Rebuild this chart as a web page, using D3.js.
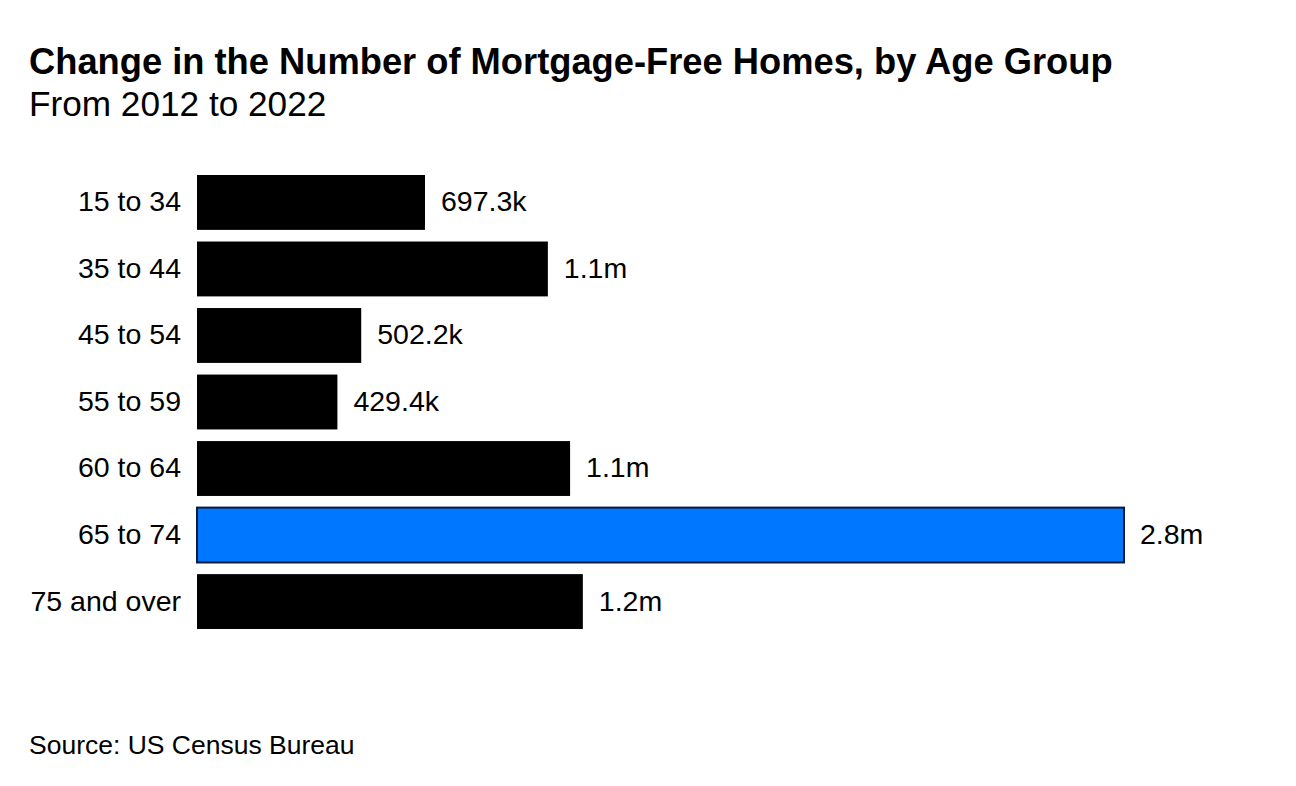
<!DOCTYPE html>
<html lang="en">
<head>
<meta charset="utf-8">
<title>Mortgage-Free Homes</title>
<script src="https://d3js.org/d3.v7.min.js"></script>
<style>
	body { margin: 0; background: #fff; }
	text { font-family: "Liberation Sans", Arial, sans-serif; fill: #000; }
</style>
</head>
<body>
<svg></svg>
<script>
	// change 2012-2022, thousands of homes
	const groups = ['15 to 34', '35 to 44', '45 to 54', '55 to 59', '60 to 64', '65 to 74', '75 and over'];
	const values = [697.3, 1073, 502.2, 429.4, 1141, 2835, 1180];
	const labels = ['697.3k', '1.1m', '502.2k', '429.4k', '1.1m', '2.8m', '1.2m'];
	const highlight = '65 to 74';

	const w = 1296;
	const h = 786;

	const svg = d3.select('svg')
		.attr('width', w)
		.attr('height', h);

	svg.append('text')
		.attr('x', 29)
		.attr('y', 74)
		.style('font-size', '36.3px')
		.style('font-weight', 700)
		.text('Change in the Number of Mortgage-Free Homes, by Age Group');

	svg.append('text')
		.attr('x', 29)
		.attr('y', 116)
		.style('font-size', '35.2px')
		.text('From 2012 to 2022');

	const x = d3.scaleLinear()
		.domain([0, 2835])
		.range([197, 1124]);

	const y = d3.scaleBand()
		.domain(groups)
		.range([175, 629])
		.paddingInner(0.175)
		.paddingOuter(0);

	svg.selectAll('rect.bar')
		.data(groups)
		.join('rect')
		.attr('class', 'bar')
		.attr('x', x(0))
		.attr('y', d => y(d))
		.attr('width', (d, i) => x(values[i]) - x(0))
		.attr('height', y.bandwidth())
		.attr('fill', d => d == highlight ? '#0077ff' : '#000')
		.attr('stroke', d => d == highlight ? '#0a1a3a' : 'none')
		.attr('stroke-width', 2);

	svg.selectAll('text.cat')
		.data(groups)
		.join('text')
		.attr('class', 'cat')
		.attr('x', 181)
		.attr('y', d => y(d) + y.bandwidth() / 2 - 1)
		.attr('dy', '0.35em')
		.attr('text-anchor', 'end')
		.style('font-size', '28.5px')
		.text(d => d);

	svg.selectAll('text.val')
		.data(groups)
		.join('text')
		.attr('class', 'val')
		.attr('x', (d, i) => x(values[i]) + 16)
		.attr('y', d => y(d) + y.bandwidth() / 2 - 1)
		.attr('dy', '0.35em')
		.style('font-size', '28.5px')
		.text((d, i) => labels[i]);

	svg.append('text')
		.attr('x', 29)
		.attr('y', 754)
		.style('font-size', '26.5px')
		.text('Source: US Census Bureau');
</script>
</body>
</html>
